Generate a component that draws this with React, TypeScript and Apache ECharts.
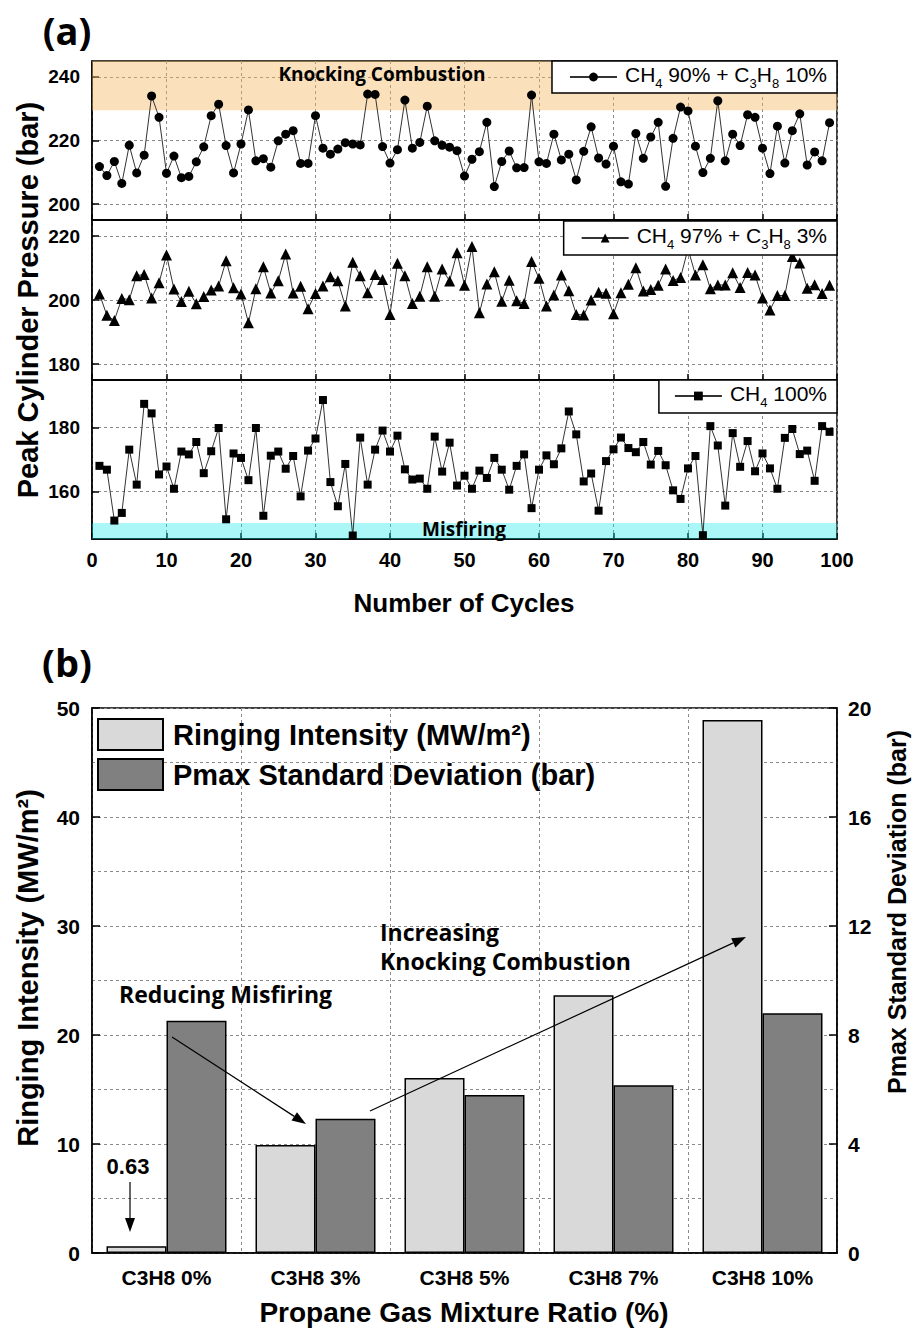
import React, { useEffect, useRef } from 'react';
import * as echarts from 'echarts';

// ---------- Data ----------
const ch90 = [
  211.8, 209.0, 213.4, 206.5, 218.5, 209.8, 215.4, 234.0, 227.3, 209.7,
  215.1, 208.3, 208.7, 213.3, 218.0, 227.8, 231.4, 218.4, 209.8, 218.9,
  229.6, 213.6, 214.3, 211.6, 219.9, 222.0, 223.1, 212.8, 212.8, 227.8,
  217.6, 215.7, 217.3, 219.3, 218.9, 218.6, 234.6, 234.5, 218.1, 212.9,
  217.1, 232.7, 217.6, 219.4, 230.8, 219.9, 218.5, 217.9, 216.8, 208.8,
  214.1, 216.5, 225.7, 205.5, 213.4, 216.7, 211.4, 211.5, 234.3, 213.3,
  212.8, 222.0, 213.9, 215.7, 207.6, 216.6, 224.3, 214.5, 212.6, 218.2,
  207.0, 206.3, 222.2, 214.4, 221.1, 225.7, 205.6, 220.7, 230.5, 229.3,
  218.2, 209.9, 214.4, 232.5, 213.6, 222.0, 218.4, 228.1, 227.3, 217.6,
  209.6, 224.5, 212.9, 223.1, 228.4, 212.3, 216.4, 213.6, 225.6,
];
const ch97 = [
  201.9, 195.2, 193.6, 200.5, 200.1, 207.6, 208.0, 200.6, 205.4, 214.1,
  203.4, 199.5, 202.7, 198.8, 201.1, 203.1, 204.4, 212.3, 203.8, 201.9,
  192.9, 203.5, 210.4, 202.2, 206.0, 214.4, 202.2, 204.3, 197.3, 202.0,
  204.4, 207.3, 206.0, 198.1, 211.8, 207.6, 202.3, 208.0, 206.4, 195.5,
  211.5, 207.6, 198.9, 201.2, 210.4, 201.2, 209.7, 205.9, 214.8, 204.6,
  216.7, 196.0, 205.0, 208.8, 199.6, 206.2, 199.8, 198.9, 212.0, 206.8,
  198.1, 201.6, 207.8, 202.9, 195.5, 195.3, 200.0, 202.4, 202.1, 195.7,
  202.3, 204.9, 210.1, 202.8, 203.3, 204.6, 209.7, 206.1, 207.0, 216.0,
  207.8, 211.0, 203.5, 204.7, 204.7, 208.5, 203.9, 208.6, 207.8, 200.6,
  196.9, 201.4, 201.4, 213.6, 211.6, 203.7, 204.8, 202.0, 204.6,
];
const ch100 = [
  168.0, 166.8, 150.8, 153.2, 173.1, 162.1, 187.5, 184.5, 165.3, 167.8,
  160.8, 172.5, 171.6, 175.5, 165.7, 172.6, 179.9, 151.2, 171.9, 170.5,
  163.5, 179.9, 152.3, 171.2, 172.5, 167.1, 171.1, 158.4, 172.8, 176.6,
  188.7, 162.9, 155.3, 168.6, 146.1, 176.9, 162.1, 173.1, 179.1, 172.5,
  177.5, 166.9, 163.7, 164.0, 160.8, 177.2, 166.2, 175.3, 161.8, 164.9,
  160.8, 166.5, 164.2, 170.5, 166.8, 160.5, 168.0, 171.6, 154.7, 166.8,
  171.3, 168.5, 173.5, 185.1, 177.9, 163.1, 165.6, 153.9, 169.5, 173.2,
  176.9, 173.6, 172.3, 175.5, 168.4, 172.7, 168.2, 160.3, 157.6, 167.2,
  171.1, 146.2, 180.5, 174.4, 155.5, 178.3, 167.7, 175.8, 166.3, 171.9,
  167.2, 160.8, 176.8, 179.6, 171.7, 172.8, 163.3, 180.5, 178.7,
];
const seriesNames = ['CH4 90% + C3H8 10%', 'CH4 97% + C3H8 3%', 'CH4 100%'];
const panelRanges = [[195, 245], [175, 225], [145, 195]];
const panelTicks = [[200, 220, 240], [180, 200, 220], [160, 180]];
const knockingBand = [229.5, 245];
const misfireBand = [145, 150];

const barCategories = ['C3H8 0%', 'C3H8 3%', 'C3H8 5%', 'C3H8 7%', 'C3H8 10%'];
const ringingIntensity = [0.63, 9.9, 16.05, 23.65, 48.9];
const pmaxStd = [8.52, 4.93, 5.8, 6.16, 8.8];
const barNames = ['Ringing Intensity (MW/m²)', 'Pmax Standard Deviation (bar)'];

// ---------- Styles ----------
const FONT = "'Liberation Sans', Arial, sans-serif";
const KFONT = "'Open Sans', 'Noto Sans', sans-serif";
const GRIDC = '#8a8a8a';

const legendRich: Record<string, string> = {
  'CH4 90% + C3H8 10%': '{n|CH}{s|4}{n| 90% + C}{s|3}{n|H}{s|8}{n| 10%}',
  'CH4 97% + C3H8 3%': '{n|CH}{s|4}{n| 97% + C}{s|3}{n|H}{s|8}{n| 3%}',
  'CH4 100%': '{n|CH}{s|4}{n| 100%}',
};

function arrow(x1: number, y1: number, x2: number, y2: number) {
  const dx = x2 - x1, dy = y2 - y1;
  const len = Math.sqrt(dx * dx + dy * dy);
  const ux = dx / len, uy = dy / len;
  const L = 14, W = 5;
  const bx = x2 - ux * L, by = y2 - uy * L;
  const px = -uy, py = ux;
  return [
    { type: 'line', z: 100, shape: { x1, y1, x2: bx, y2: by }, style: { stroke: '#000', lineWidth: 1.2 } },
    {
      type: 'polygon',
      z: 100,
      shape: { points: [[x2, y2], [bx + px * W, by + py * W], [bx - px * W, by - py * W]] },
      style: { fill: '#000' },
    },
  ];
}

function txt(text: string, x: number, y: number, font: string, opts: any = {}) {
  return {
    type: 'text',
    x,
    y,
    rotation: opts.rotation || 0,
    style: {
      text,
      font,
      fill: '#000',
      align: opts.align || 'center',
      verticalAlign: 'middle',
    },
    z: 100,
  };
}

export default function App() {
  const ref = useRef<HTMLDivElement>(null);
  useEffect(() => {
    if (!ref.current) return;
    const chart = echarts.init(ref.current, null, { renderer: 'svg' });

    const gridsA = [
      { left: 92, top: 61, width: 745, height: 159 },
      { left: 92, top: 220, width: 745, height: 160 },
      { left: 92, top: 380, width: 745, height: 159 },
    ];
    const grid = [
      ...gridsA.map((g) => ({ ...g, show: true, borderColor: '#000', borderWidth: 1.5, backgroundColor: 'transparent' })),
      { left: 92, top: 708, width: 745, height: 545, show: true, borderColor: '#000', borderWidth: 1.5, backgroundColor: 'transparent' },
    ];

    const axisLine = { show: true, onZero: false, lineStyle: { color: '#000', width: 1.5 } };
    const dashed = { show: true, lineStyle: { color: GRIDC, type: [3, 3], width: 1 } };

    const xAxis: any[] = [0, 1, 2].map((i) => ({
      type: 'value',
      gridIndex: i,
      min: 0,
      max: 100,
      interval: 10,
      axisLine,
      axisTick: { show: true, inside: true, length: 6, lineStyle: { color: '#000', width: 1.5 } },
      axisLabel: { show: i === 2, fontFamily: FONT, fontWeight: 'bold', fontSize: 20, color: '#000', margin: 11 },
      splitLine: dashed,
    }));
    xAxis.push({
      type: 'category',
      gridIndex: 3,
      data: barCategories,
      axisLine,
      axisTick: { show: false },
      axisLabel: { fontFamily: FONT, fontWeight: 'bold', fontSize: 21, color: '#000', margin: 14 },
      splitLine: dashed,
    });

    const yAxis: any[] = [0, 1, 2].map((i) => ({
      type: 'value',
      gridIndex: i,
      min: panelRanges[i][0],
      max: panelRanges[i][1],
      axisLine,
      axisTick: { show: true, inside: true, length: 7, customValues: panelTicks[i], lineStyle: { color: '#000', width: 1.5 } },
      axisLabel: { customValues: panelTicks[i], fontFamily: FONT, fontWeight: 'bold', fontSize: 19, color: '#000', margin: 12 },
      splitLine: dashed,
    }));
    yAxis.push({
      type: 'value',
      gridIndex: 3,
      min: 0,
      max: 50,
      interval: 10,
      axisLine,
      axisTick: { show: true, inside: true, length: 8, lineStyle: { color: '#000', width: 1.5 } },
      axisLabel: { fontFamily: FONT, fontWeight: 'bold', fontSize: 21, color: '#000', margin: 12 },
      splitLine: dashed,
      minorTick: { show: false, splitNumber: 2 },
      minorSplitLine: { show: true, lineStyle: { color: GRIDC, type: [3, 3], width: 1 } },
    });
    yAxis.push({
      type: 'value',
      gridIndex: 3,
      position: 'right',
      min: 0,
      max: 20,
      interval: 4,
      axisLine,
      axisTick: { show: true, inside: true, length: 8, lineStyle: { color: '#000', width: 1.5 } },
      axisLabel: { fontFamily: FONT, fontWeight: 'bold', fontSize: 21, color: '#000', margin: 11 },
      splitLine: { show: false },
    });

    const lineData = [ch90, ch97, ch100];
    const symbols = ['circle', 'triangle', 'rect'];
    const symbolSizes = [9, 11, 8];
    const series: any[] = lineData.map((vals, i) => {
      const s: any = {
        type: 'line',
        name: seriesNames[i],
        xAxisIndex: i,
        yAxisIndex: i,
        data: vals.map((v, k) => [k + 1, v]),
        symbol: symbols[i],
        symbolSize: symbolSizes[i],
        lineStyle: { color: '#333', width: 1 },
        itemStyle: { color: '#000' },
      };
      if (i === 0) {
        s.markArea = {
          silent: true,
          itemStyle: { color: 'rgba(245,180,95,0.42)' },
          data: [[{ yAxis: knockingBand[0] }, { yAxis: knockingBand[1] }]],
        };
      }
      if (i === 2) {
        s.markArea = {
          silent: true,
          itemStyle: { color: 'rgba(0,232,232,0.33)' },
          data: [[{ yAxis: misfireBand[0] }, { yAxis: misfireBand[1] }]],
        };
      }
      return s;
    });
    series.push({
      type: 'bar',
      name: barNames[0],
      xAxisIndex: 3,
      yAxisIndex: 3,
      data: ringingIntensity,
      barWidth: 60,
      barGap: '0%',
      itemStyle: { color: '#d9d9d9', borderColor: '#000', borderWidth: 1.5 },
    });
    series.push({
      type: 'bar',
      name: barNames[1],
      xAxisIndex: 3,
      yAxisIndex: 4,
      data: pmaxStd,
      barWidth: 60,
      barGap: '0%',
      itemStyle: { color: '#808080', borderColor: '#000', borderWidth: 1.5 },
    });

    const rich = {
      n: { fontFamily: FONT, fontSize: 21, color: '#000', lineHeight: 26, verticalAlign: 'top' },
      s: { fontFamily: FONT, fontSize: 13, color: '#000', lineHeight: 26, verticalAlign: 'bottom' },
    };
    const lineLegendCommon = {
      right: 79,
      orient: 'horizontal',
      backgroundColor: '#fff',
      borderColor: '#000',
      borderWidth: 1.5,
      borderRadius: 0,
      itemWidth: 47,
      itemHeight: 11,
      itemGap: 0,
      selectedMode: false,
      formatter: (name: string) => legendRich[name] || name,
      textStyle: { rich, padding: [0, 0, 0, 3] },
      z: 20,
    };
    const legend = [
      { ...lineLegendCommon, data: [seriesNames[0]], top: 61, padding: [3, 10, 3, 17] },
      { ...lineLegendCommon, data: [seriesNames[1]], top: 221, padding: [4, 10, 4, 17] },
      { ...lineLegendCommon, data: [seriesNames[2]], top: 380, padding: [3, 10, 4, 15] },
      {
        data: barNames,
        left: 97,
        top: 718,
        orient: 'vertical',
        padding: 0,
        itemWidth: 65,
        itemHeight: 31,
        itemGap: 7,
        icon: 'rect',
        selectedMode: false,
        textStyle: { fontFamily: FONT, fontWeight: 'bold', fontSize: 29, color: '#000', padding: [0, 0, 0, 5] },
      },
    ];

    const bold = (size: number, fam = FONT) => `bold ${size}px ${fam}`;
    const graphic: any[] = [
      txt('(a)', 67, 30, bold(38, KFONT)),
      txt('Peak Cylinder Pressure (bar)', 28, 300, bold(29), { rotation: Math.PI / 2 }),
      txt('Number of Cycles', 464, 603, bold(26)),
      txt('Knocking Combustion', 382, 74, bold(19, KFONT)),
      txt('Misfiring', 464, 529, bold(19, KFONT)),
      txt('(b)', 67, 662, bold(38, KFONT)),
      txt('Ringing Intensity (MW/m²)', 28, 968, bold(29), { rotation: Math.PI / 2 }),
      txt('Pmax Standard Deviation (bar)', 897, 912, bold(25), { rotation: Math.PI / 2 }),
      txt('Propane Gas Mixture Ratio (%)', 464, 1312, bold(28)),
      txt('0.63', 128, 1166, bold(22)),
      txt('Reducing Misfiring', 119, 994, bold(23, KFONT), { align: 'left' }),
      txt('Increasing', 380, 932, bold(23, KFONT), { align: 'left' }),
      txt('Knocking Combustion', 380, 961, bold(23, KFONT), { align: 'left' }),
      ...arrow(130, 1182, 130, 1232),
      ...arrow(172, 1037, 306, 1124),
      ...arrow(370, 1111, 746, 937),
    ];

    chart.setOption({
      animation: false,
      backgroundColor: '#fff',
      grid,
      xAxis,
      yAxis,
      series,
      legend,
      graphic,
    });
    return () => chart.dispose();
  }, []);
  return <div ref={ref} style={{ position: 'absolute', left: 0, top: 0, width: 916, height: 1336, background: '#fff' }} />;
}
